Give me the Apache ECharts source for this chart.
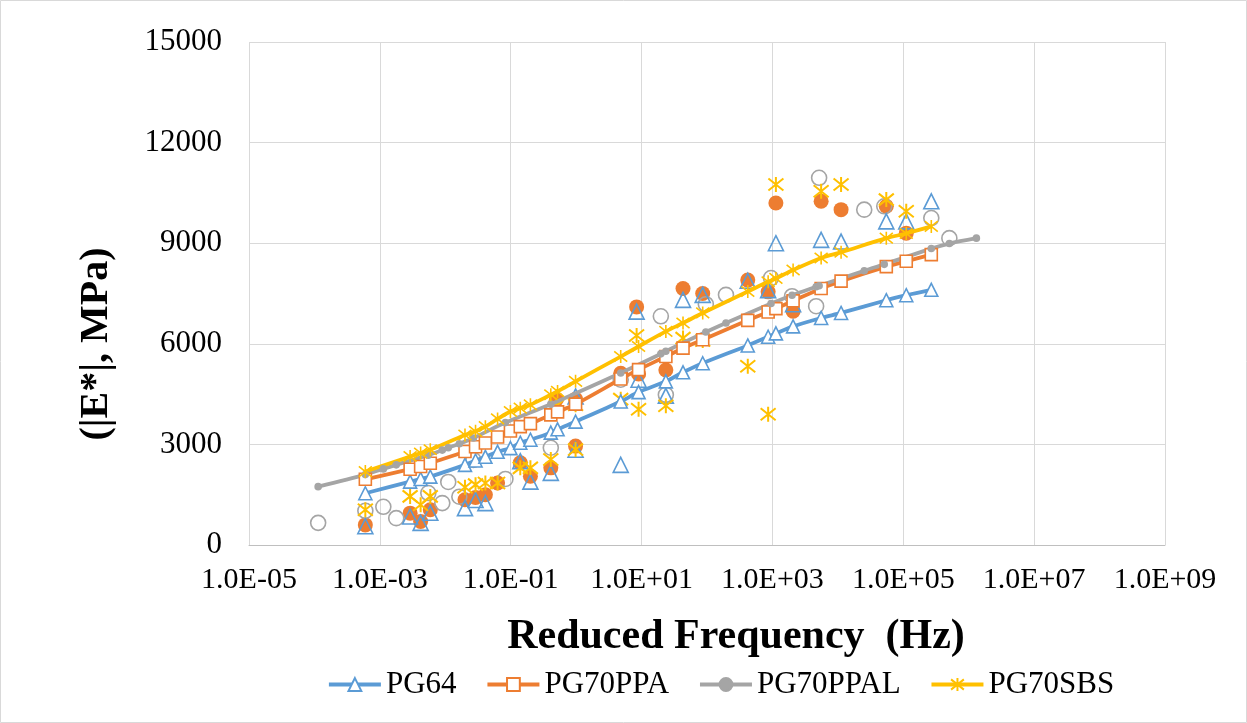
<!DOCTYPE html>
<html><head><meta charset="utf-8">
<script src="https://cdn.jsdelivr.net/npm/echarts@6/dist/echarts.min.js"></script>
<style>html,body{margin:0;padding:0;background:#fff}#c{width:1247px;height:723px}</style>
</head><body><div id="c"></div>
<script>
// ---- data ----
const seriesNames = ['PG64', 'PG70PPA', 'PG70PPAL', 'PG70SBS'];
const yTicks = [0, 3000, 6000, 9000, 12000, 15000];

// model (fitted master curve) frequencies, Hz
const freqModel = [6.0e-4, 2.9e-3, 4.2e-3, 5.9e-3, 2.0e-2, 2.9e-2, 4.1e-2, 6.3e-2, 9.9e-2, 0.14, 0.20, 0.41, 0.52, 0.98, 4.8, 9.0, 23.5, 43, 86, 420, 860, 1130, 2070, 5550, 11200, 55000, 111000, 268000];
const pg64Model = [1543, 1890, 1970, 2040, 2390, 2520, 2630, 2780, 2890, 3050, 3140, 3350, 3450, 3680, 4280, 4560, 4880, 5150, 5420, 5950, 6210, 6310, 6520, 6770, 6920, 7300, 7450, 7610];
const ppaModel  = [1960, 2260, 2340, 2440, 2790, 2930, 3040, 3220, 3400, 3530, 3620, 3880, 3970, 4200, 4950, 5230, 5620, 5870, 6120, 6700, 6950, 7050, 7280, 7650, 7870, 8300, 8460, 8660];
const sbsModel  = [2190, 2640, 2740, 2840, 3280, 3390, 3530, 3760, 3980, 4080, 4180, 4480, 4580, 4880, 5620, 5920, 6370, 6620, 6920, 7560, 7850, 7950, 8200, 8560, 8730, 9150, 9290, 9500];
const freqPpalModel = [1.14e-4, 6.0e-4, 1.13e-3, 1.78e-3, 5.5e-3, 9.0e-3, 1.11e-2, 1.64e-2, 2.69e-2, 8.3e-2, 0.41, 4.8, 19.7, 23.5, 96, 195, 952, 1995, 4655, 5170, 25300, 51200, 268000, 506000, 1.31e6];
const ppalModel = [1740, 2100, 2270, 2390, 2680, 2830, 2900, 3020, 3190, 3650, 4200, 5130, 5700, 5780, 6350, 6620, 7200, 7450, 7700, 7730, 8180, 8370, 8840, 8990, 9150];

// measured
const pg64MeasFreq = [6.0e-4, 2.9e-3, 4.2e-3, 5.9e-3, 2.0e-2, 2.9e-2, 4.1e-2, 0.14, 0.20, 0.41, 0.98, 0.98, 4.8, 8.4, 9.0, 23.5, 43, 86, 420, 860, 1130, 2070, 5550, 11200, 55000, 111000, 268000];
const pg64MeasVal  = [560, 850, 660, 960, 1100, 1340, 1250, 2500, 1890, 2150, 2840, 4430, 2390, 6960, 4930, 4450, 7310, 7460, 7880, 7600, 9000, 7180, 9100, 9050, 9650, 9650, 10250];
const ppaMeasFreq = [6.0e-4, 2.9e-3, 4.2e-3, 5.9e-3, 2.0e-2, 2.9e-2, 4.1e-2, 6.3e-2, 0.14, 0.20, 0.41, 0.50, 0.98, 0.98, 4.8, 8.4, 9.0, 23.5, 43, 86, 420, 860, 1130, 2070, 5550, 11200, 55000, 111000];
const ppaMeasVal  = [600, 950, 700, 1050, 1350, 1420, 1500, 1850, 2450, 2050, 2300, 4350, 2950, 4350, 5120, 7100, 5100, 5220, 7650, 7500, 7900, 7550, 10200, 6970, 10250, 10000, 10100, 9300];
const ppalMeasFreq = [1.14e-4, 6.0e-4, 1.13e-3, 1.78e-3, 5.5e-3, 9.0e-3, 1.11e-2, 1.64e-2, 2.69e-2, 8.3e-2, 0.41, 4.8, 19.7, 23.5, 96, 195, 952, 1995, 4655, 5170, 25300, 51200, 268000, 506000];
const ppalMeasVal  = [660, 1020, 1140, 800, 1550, 1250, 1880, 1440, 2540, 1970, 2900, 4930, 6820, 4480, 7180, 7460, 7960, 7420, 7120, 10950, 10000, 10100, 9750, 9150];
const sbsMeasFreq = [6.0e-4, 2.9e-3, 4.2e-3, 5.9e-3, 2.0e-2, 2.9e-2, 4.1e-2, 6.3e-2, 0.14, 0.20, 0.41, 0.50, 0.98, 0.98, 4.8, 8.4, 9.0, 23.5, 43, 86, 420, 860, 1130, 5550, 11200, 55000, 111000];
const sbsMeasVal  = [1050, 1450, 1200, 1450, 1720, 1800, 1850, 1850, 2300, 2300, 2550, 4150, 2850, 4180, 4350, 6250, 4050, 4150, 6170, 6100, 5330, 3900, 10750, 10550, 10750, 10300, 9950];

// ---- styling ----
const BLUE = '#5B9BD5', ORANGE = '#ED7D31', GRAY = '#A5A5A5', YELLOW = '#FFC000';
const FONT = 'Liberation Serif';
const STAR = 'path://M10,0L10,20M2,2L18,18M18,2L2,18';

const pairs = (f, v) => f.map((x, i) => [x, v[i]]);
const fmtExp = v => {
  const e = Math.round(Math.log10(v));
  return '1.0E' + (e < 0 ? '-' : '+') + String(Math.abs(e)).padStart(2, '0');
};

const chart = echarts.init(document.getElementById('c'), null, {renderer: 'canvas'});
const lineBase = (name, color, f, v, symbol, size, fill) => ({
  name, type: 'line', data: pairs(f, v), smooth: 0.3,
  symbol, symbolSize: size,
  lineStyle: {color, width: 3.8},
  itemStyle: {color: fill, borderColor: color, borderWidth: 1.6},
  emphasis: {disabled: true}, z: 3
});
const scatBase = (name, color, f, v, symbol, size, fill, bw) => ({
  name, type: 'scatter', data: pairs(f, v), symbol, symbolSize: size,
  itemStyle: {color: fill, borderColor: color, borderWidth: bw, opacity: 1},
  emphasis: {disabled: true}, z: 2
});

chart.setOption({
  animation: false,
  backgroundColor: '#fff',
  grid: {left: 249, right: 82, top: 42, bottom: 178},
  xAxis: {
    type: 'log', logBase: 10, min: 1e-5, max: 1e9, interval: 2,
    axisLine: {show: true, onZero: false, lineStyle: {color: '#bfbfbf', width: 1}},
    axisTick: {show: false},
    splitLine: {show: true, lineStyle: {color: '#d9d9d9', width: 1}},
    axisLabel: {formatter: fmtExp, fontFamily: FONT, fontSize: 30, color: '#000', margin: 20}
  },
  yAxis: {
    type: 'value', min: yTicks[0], max: yTicks[yTicks.length - 1], interval: 3000,
    axisLine: {show: false}, axisTick: {show: false},
    splitLine: {show: true, lineStyle: {color: '#d9d9d9', width: 1}},
    axisLabel: {formatter: v => String(v), fontFamily: FONT, fontSize: 31, color: '#000', margin: 27}
  },
  legend: {
    data: seriesNames, left: 327, top: 669, padding: 0, itemWidth: 52, itemHeight: 16, itemGap: 29,
    lineStyle: {width: 3.8},
    textStyle: {fontFamily: FONT, fontSize: 31, color: '#000'}, selectedMode: false
  },
  graphic: [
    {type: 'rect', shape: {x: 0.5, y: 0.5, width: 1246, height: 722}, style: {fill: 'none', stroke: '#d9d9d9', lineWidth: 1}, silent: true},
    {type: 'text', x: 97, y: 344, rotation: Math.PI / 2,
     style: {text: '(|E*|, MPa)', font: 'bold 40px "Liberation Serif"', fill: '#000', textAlign: 'center', textVerticalAlign: 'middle'}},
    {type: 'text', x: 736, y: 637,
     style: {text: 'Reduced Frequency  (Hz)', font: 'bold 42px "Liberation Serif"', fill: '#000', textAlign: 'center', textVerticalAlign: 'middle'}}
  ],
  series: [
    scatBase('PG70PPA measured', ORANGE, ppaMeasFreq, ppaMeasVal, 'circle', 15, ORANGE, 0),
    scatBase('PG70PPAL measured', GRAY, ppalMeasFreq, ppalMeasVal, 'circle', 15, 'rgba(255,255,255,0)', 1.6),
    scatBase('PG64 measured', BLUE, pg64MeasFreq, pg64MeasVal, 'triangle', 15, 'rgba(255,255,255,0)', 1.6),
    scatBase('PG70SBS measured', YELLOW, sbsMeasFreq, sbsMeasVal, STAR, 15, 'rgba(255,255,255,0)', 2),
    lineBase('PG64', BLUE, freqModel, pg64Model, 'triangle', 13, '#fff'),
    lineBase('PG70PPA', ORANGE, freqModel, ppaModel, 'rect', 12, '#fff'),
    lineBase('PG70PPAL', GRAY, freqPpalModel, ppalModel, 'circle', 6, GRAY),
    lineBase('PG70SBS', YELLOW, freqModel, sbsModel, STAR, 13, 'rgba(255,255,255,0)')
  ]
});
</script></body></html>
